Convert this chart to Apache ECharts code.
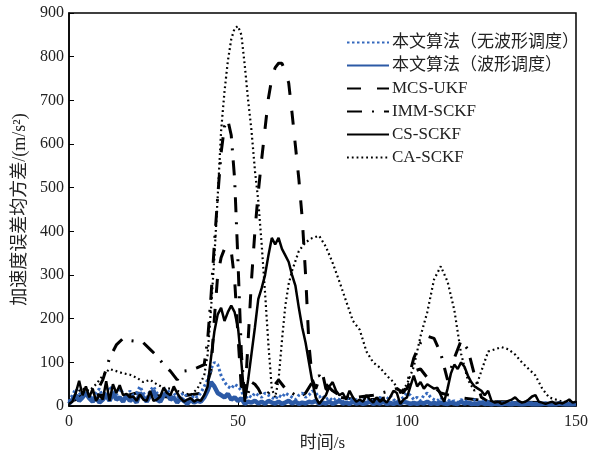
<!DOCTYPE html>
<html>
<head>
<meta charset="utf-8">
<script src="https://cdn.jsdelivr.net/npm/echarts@6/dist/echarts.min.js"></script>
<style>
html,body{margin:0;padding:0;background:#fff;}
#chart{width:598px;height:457px;}
</style>
</head>
<body>
<div id="chart"></div>
<script>
// ---- data ----
const seriesNames = ['本文算法（无波形调度）','本文算法（波形调度）','MCS-UKF','IMM-SCKF','CS-SCKF','CA-SCKF'];
const xTicks = [0, 50, 100, 150];
const yTicks = [0,100,200,300,400,500,600,700,800,900];

const time1 = [0,1,2,3,4,5,6,7,8,9,10,11,12,13,14,15,16,17,18,19,20,21,22,23,24,25,26,27,28,29,30,31,32,33,34,35,36,37,38,39,40,41,42,43,44,45,46,47,48,49,50,51,52,53,54,55,56,57,58,59,60,61,62,63,64,65,66,67,68,69,70,71,72,73,74,75,76,77,78,79,80,81,82,83,84,85,86,87,88,89,90,91,92,93,94,95,96,97,98,99,100,101,102,103,104,105,106,107,108,109,110,111,112,113,114,115,116,117,118,119,120,121,122,123,124,125,126,127,128,129,130,131,132,133,134,135,136,137,138,139,140,141,142,143,144,145,146,147,148,149,150];

const csY = [5,10,30,58,25,45,20,40,12,25, 15,57,12,50,30,48,25,28,20,22, 12,27,15,12,35,12,15,22,42,30, 25,45,30,18,10,15,18,10,15,12, 25,45,110,170,210,225,195,215,230,215, 180,100,10,60,120,180,245,270,300,345, 385,370,385,360,345,330,300,275,225,180, 145,100,55,20,5,15,25,45,55,35, 25,30,15,35,20,10,15,10,25,15, 8,20,10,15,8,20,35,30,5,15, 20,45,70,45,55,40,50,45,40,42, 25,10,40,75,95,85,100,90,70,55, 45,40,35,25,35,12,8,10,5,8, 12,15,20,12,8,10,15,22,25,10, 8,5,8,10,5,8,6,10,15,8, 10];

const blueSolidY = [5,15,25,12,20,30,18,10,20,8, 15,25,12,30,15,20,10,25,12,18, 8,30,20,10,25,35,15,10,25,30, 15,20,8,18,12,5,15,8,12,10, 20,35,55,45,30,25,20,28,15,20, 12,18,5,10,8,12,6,10,5,12, 8,6,10,5,8,12,6,10,5,8, 6,10,8,12,5,8,6,10,5,8, 12,6,8,5,10,6,8,5,7,10, 5,8,6,10,5,7,5,8,6,10, 8,5,7,5,8,6,10,5,7,5, 8,6,5,8,6,5,10,6,8,5, 6,5,8,5,6,4,6,5,4,6, 5,4,6,5,4,5,6,4,5,4, 5,6,4,5,4,6,5,4,5,4, 5];

const blueDotY = [10,25,40,30,20,35,25,15,30,40, 20,30,45,35,25,40,30,20,35,25, 30,45,30,20,35,45,30,20,35,40, 25,30,20,25,30,20,15,25,20,30, 45,60,85,100,95,70,55,45,40,50, 45,35,15,25,20,30,25,20,30,25, 20,15,25,20,30,25,20,15,25,30, 20,25,35,30,20,25,15,20,12,18, 15,10,15,20,12,15,10,15,12,18, 10,15,20,12,15,25,15,10,15,20, 30,25,15,20,12,25,30,20,15,12, 20,10,15,10,12,8,15,10,12,8, 15,10,8,12,10,8,6,10,8,6, 8,10,6,8,5,7,6,8,5,6, 7,5,6,8,5,6,5,7,5,6, 5];

const caX = [0,2,4,6,8,10,12,14,16,18,20,22,24,26,28,30,32,34,36,38,40,41,42,43,44,45,46,47,48,49,50,51,52,53,54,55,56,57,58,59,60,61,62,63,64,65,66,68,70,72,74,76,78,80,82,84,86,88,90,92,94,96,98,100,102,104,106,108,110,112,114,116,118,120,122,124,126,128,130,132,134,136,138,140,142,144,146,148,150];
const caY = [10,30,40,35,50,70,85,80,75,72,65,55,60,50,42,40,35,30,25,40,70, 117,220,340,480,630,720,790,840,865,870,850,780,700,630,540,470,370,260,140,40,20,60,150,230,280,310, 355,375,385,390,365,328,285,240,195,175,125,100,88,70,55,30,50,90,160,215,290,320,285,220,120,60,35,80,125,130,135,130,118,100,85,70,40,20,15,10,10,8];

const mcsX = [0,5,10,15,20,25,30,35,40,42,43,44,45,46,47,48,49,50,51,52,53,54,55,56,57,58,59,60,61,62,63,64,65,66,67,68,69,70,71,72,73,74,75,76,78,80,85,90,95,100,102,104,106,108,110,115,120,125,130,140,150];
const mcsY = [10,30,25,20,30,25,20,25,30, 80,200,300,340,360,368,355,290,160,40, 12,150,290,400,490,565,635,705,750,775, 785,785,765,740,670,595,520,430,300,140, 60,40,60,75,40, 25,20,15,15,20,40,80,85,65,45,30,20,15,10,10,8,5];

const immX = [0,4,8,10,12,14,16,18,20,22,24,26,28,30,32,34,36,38,40,41,42,43,44,45,46,47,48,49,50,51,52,53,54,55,56,57,58,60,62,63,64,66,68,70,72,74,76,78,80,85,90,95,97,99,100,102,104,106,108,110,112,114,116,118,120,121,122,124,130,140,150];
const immY = [10,20,30, 60,110,140,155,150,148,145,130,115,95,80,60,80,82,88,95, 150,250,370,480,580,640,655,620,520,330,120,15,30,55,50,40,25,20, 40,60,50,40,30,20,30,55,70,50,35,25, 20,25,35,40,30,50, 110,145,160,155,120,60,110,150,130,70, 45,20,10,8,5,5];

// ---- build ----
function pairs(xs, ys){ return xs.map((x,i)=>[x, ys[i]]); }

const FONT = '"Liberation Serif","Times New Roman","Noto Sans CJK SC",serif';
const chart = echarts.init(document.getElementById('chart'), null, {renderer:'canvas'});

const option = {
  animation:false,
  backgroundColor:'#fff',
  grid:{left:69, right:22, top:13, bottom:45, show:true, borderColor:'#000', borderWidth:1.5, backgroundColor:'transparent'},
  legend:{
    orient:'vertical', left:341, top:29,
    itemWidth:42, itemHeight:14, itemGap:6,
    data: seriesNames,
    itemStyle:{opacity:0, color:'transparent', borderWidth:0},
    textStyle:{fontFamily:FONT, fontSize:17, color:'#222', padding:[0,0,0,-2]}
  },
  xAxis:{
    type:'value', min:0, max:150, interval:50,
    name:'时间/s', nameLocation:'middle', nameGap:27,
    nameTextStyle:{fontFamily:FONT, fontSize:17, color:'#222'},
    axisLine:{show:true, lineStyle:{color:'#000', width:1.5}},
    axisTick:{show:true, inside:true, length:5, lineStyle:{color:'#000'}},
    axisLabel:{fontFamily:FONT, fontSize:16, color:'#222', margin:8,
      formatter:v=> xTicks.indexOf(v)>=0 ? String(v) : ''},
    splitLine:{show:false}
  },
  yAxis:{
    type:'value', min:0, max:900, interval:100,
    name:'加速度误差均方差/(m/s²)', nameLocation:'middle', nameGap:40, nameRotate:90,
    nameTextStyle:{fontFamily:FONT, fontSize:18, color:'#222'},
    axisLine:{show:true, lineStyle:{color:'#000', width:1.5}},
    axisTick:{show:true, inside:true, length:5, lineStyle:{color:'#000'}},
    axisLabel:{fontFamily:FONT, fontSize:16, color:'#222', margin:5,
      formatter:v=> yTicks.indexOf(v)>=0 ? String(v) : ''},
    splitLine:{show:false}
  },
  series:[
    {name:seriesNames[5], type:'line', symbol:'none', data:pairs(caX, caY), z:2,
      lineStyle:{color:'#000', width:2.2, type:[1.8,3], cap:'butt'}, itemStyle:{color:'#000'}},
    {name:seriesNames[2], type:'line', symbol:'none', data:pairs(mcsX, mcsY), z:3,
      lineStyle:{color:'#000', width:3, type:[14,16], cap:'butt'}, itemStyle:{color:'#000'}},
    {name:seriesNames[3], type:'line', symbol:'none', data:pairs(immX, immY), z:3,
      lineStyle:{color:'#000', width:3, type:[15,10,2,10], cap:'butt'}, itemStyle:{color:'#000'}},
    {name:seriesNames[0], type:'line', symbol:'none', data:pairs(time1, blueDotY), z:4,
      lineStyle:{color:'#3468bd', width:3, type:[2.5,2.5], cap:'butt'}, itemStyle:{color:'#3468bd'}},
    {name:seriesNames[1], type:'line', symbol:'none', data:pairs(time1, blueSolidY), z:5,
      lineStyle:{color:'#2c5aa6', width:4.5}, itemStyle:{color:'#2c5aa6'}},
    {name:seriesNames[4], type:'line', symbol:'none', data:pairs(time1, csY), z:6,
      lineStyle:{color:'#000', width:2.5}, itemStyle:{color:'#000'}}
  ]
};
chart.setOption(option);
</script>
</body>
</html>
